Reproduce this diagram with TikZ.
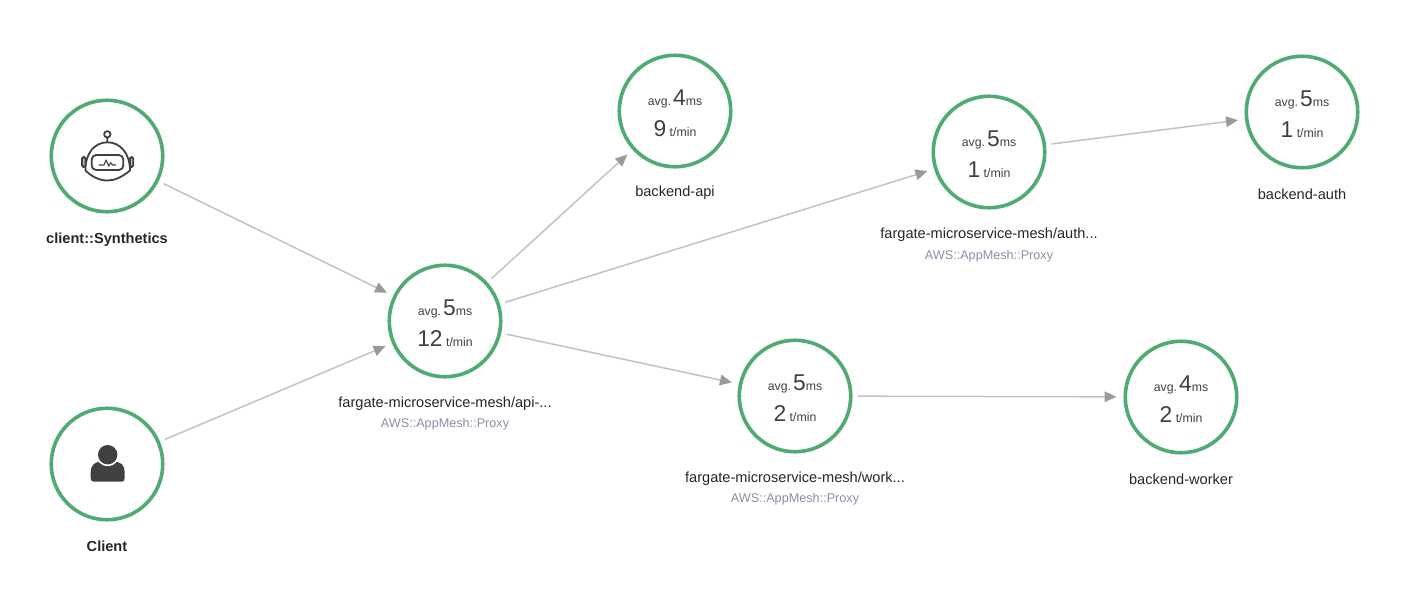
\documentclass[tikz,border=0pt]{standalone}
\usepackage{fontspec}
\setmainfont{Liberation Sans}
\usetikzlibrary{arrows.meta}
\definecolor{ringgreen}{HTML}{4FAB72}
\definecolor{edgegrey}{HTML}{C2C2C2}
\definecolor{tipgrey}{HTML}{9A9A9A}
\definecolor{inkgrey}{HTML}{404040}
\definecolor{typegrey}{HTML}{8C8CA6}
\newcommand{\metrics}[2]{\rule{0pt}{4mm}{\fontsize{7pt}{9pt}\selectfont avg.\,}{\fontsize{13pt}{13pt}\selectfont #1}{\fontsize{7pt}{9pt}\selectfont ms}\\[2mm]{\fontsize{13pt}{13pt}\selectfont #2}{\fontsize{7pt}{9pt}\selectfont\ t/min}}
\begin{document}
\begin{tikzpicture}[x=.2mm, y=-.2mm,
	vertex/.style={circle, draw=ringgreen, line width=.72mm, minimum size=22.3mm, inner sep=0mm, outer sep=0mm, align=center, text=inkgrey},
	flow/.style={draw=edgegrey, line width=.3mm, shorten <=1.45mm, shorten >=1.75mm, -{Triangle[length=2.4mm, width=2.1mm, color=tipgrey]}},
	svcname/.style={inner sep=0mm, text=black!85, font=\fontsize{8.3pt}{10pt}\selectfont},
	boldname/.style={svcname, font=\fontsize{8.3pt}{10pt}\selectfont\bfseries},
	kindname/.style={inner sep=0mm, text=typegrey, font=\fontsize{7.2pt}{9pt}\selectfont},
	icon/.style={draw=inkgrey, line width=.36mm, line join=round, line cap=round}]
	\useasboundingbox (0,0) rectangle (1418,615);
	\node[vertex] at (107,156) (syn) {};
	\node[vertex] at (107,464) (client) {};
	\node[vertex] at (445,321) (api) {\metrics{5}{12}};
	\node[vertex] at (675,111) (backapi) {\metrics{4}{9}};
	\node[vertex] at (989,152) (auth) {\metrics{5}{1}};
	\node[vertex] at (1302,112) (backauth) {\metrics{5}{1}};
	\node[vertex] at (795,396) (work) {\metrics{5}{2}};
	\node[vertex] at (1181,397) (backwork) {\metrics{4}{2}};
	\draw[flow] (syn)--(api);
	\draw[flow] (client)--(api);
	\draw[flow] (api)--(backapi);
	\draw[flow] (api)--(auth);
	\draw[flow] (api)--(work);
	\draw[flow] (auth)--(backauth);
	\draw[flow] (work)--(backwork);
	\node[boldname] at (107,239.5) (synname) {client::Synthetics};
	\node[boldname] at (107,546) (clientname) {Client};
	\node[svcname] at (445,403.5) (apiname) {fargate-microservice-mesh/api-...};
	\node[kindname] at (445,424) (apikind) {AWS::AppMesh::Proxy};
	\node[svcname] at (675,193) (backapiname) {backend-api};
	\node[svcname] at (989,234.5) (authname) {fargate-microservice-mesh/auth...};
	\node[kindname] at (989,256) (authkind) {AWS::AppMesh::Proxy};
	\node[svcname] at (1302,194) (backauthname) {backend-auth};
	\node[svcname] at (795,478.5) (workname) {fargate-microservice-mesh/work...};
	\node[kindname] at (795,499) (workkind) {AWS::AppMesh::Proxy};
	\node[svcname] at (1181,479) (backworkname) {backend-worker};
	% robot
	\draw[icon] (107.3,134.3) circle (3.2) (107.3,137.5)--(107.3,142.3);
	\draw[icon] (85.5,170.5) .. controls (85,153) and (95,142.3) .. (107.3,142.3) .. controls (120,142.3) and (130,153) .. (130,170.5) .. controls (122,177) and (115,180.5) .. (107.3,180.5) .. controls (100,180.5) and (92,177) .. (85.5,170.5);
	\draw[icon, rounded corners=.9mm] (91.7,155) rectangle (123.3,170);
	\draw[icon, fill=inkgrey!35, rounded corners=.3mm] (85.5,157) -- (82,157) -- (82,167) -- (85.5,167) -- cycle;
	\draw[icon, fill=inkgrey!35, rounded corners=.3mm] (130,157) -- (133.3,157) -- (133.3,167) -- (130,167) -- cycle;
	\draw[icon, line width=.22mm] (99,165)--(104,165)--(106,160)--(108.7,166)--(110.7,162.7)--(112.7,165)--(115.7,165);
	% person
	\fill[inkgrey] (90.7,478) -- (90.7,472) .. controls (90.7,465) and (95,461.7) .. (101,461.7) -- (114.5,461.7) .. controls (120.5,461.7) and (124.7,465) .. (124.7,472) -- (124.7,478) .. controls (124.7,481) and (123.5,481.7) .. (121.5,481.7) -- (94,481.7) .. controls (92,481.7) and (90.7,481) .. (90.7,478) -- cycle;
	\fill[white] (107.7,454.7) circle (11.5);
	\fill[inkgrey] (107.7,454.7) circle (9.7);
\end{tikzpicture}
\end{document}
